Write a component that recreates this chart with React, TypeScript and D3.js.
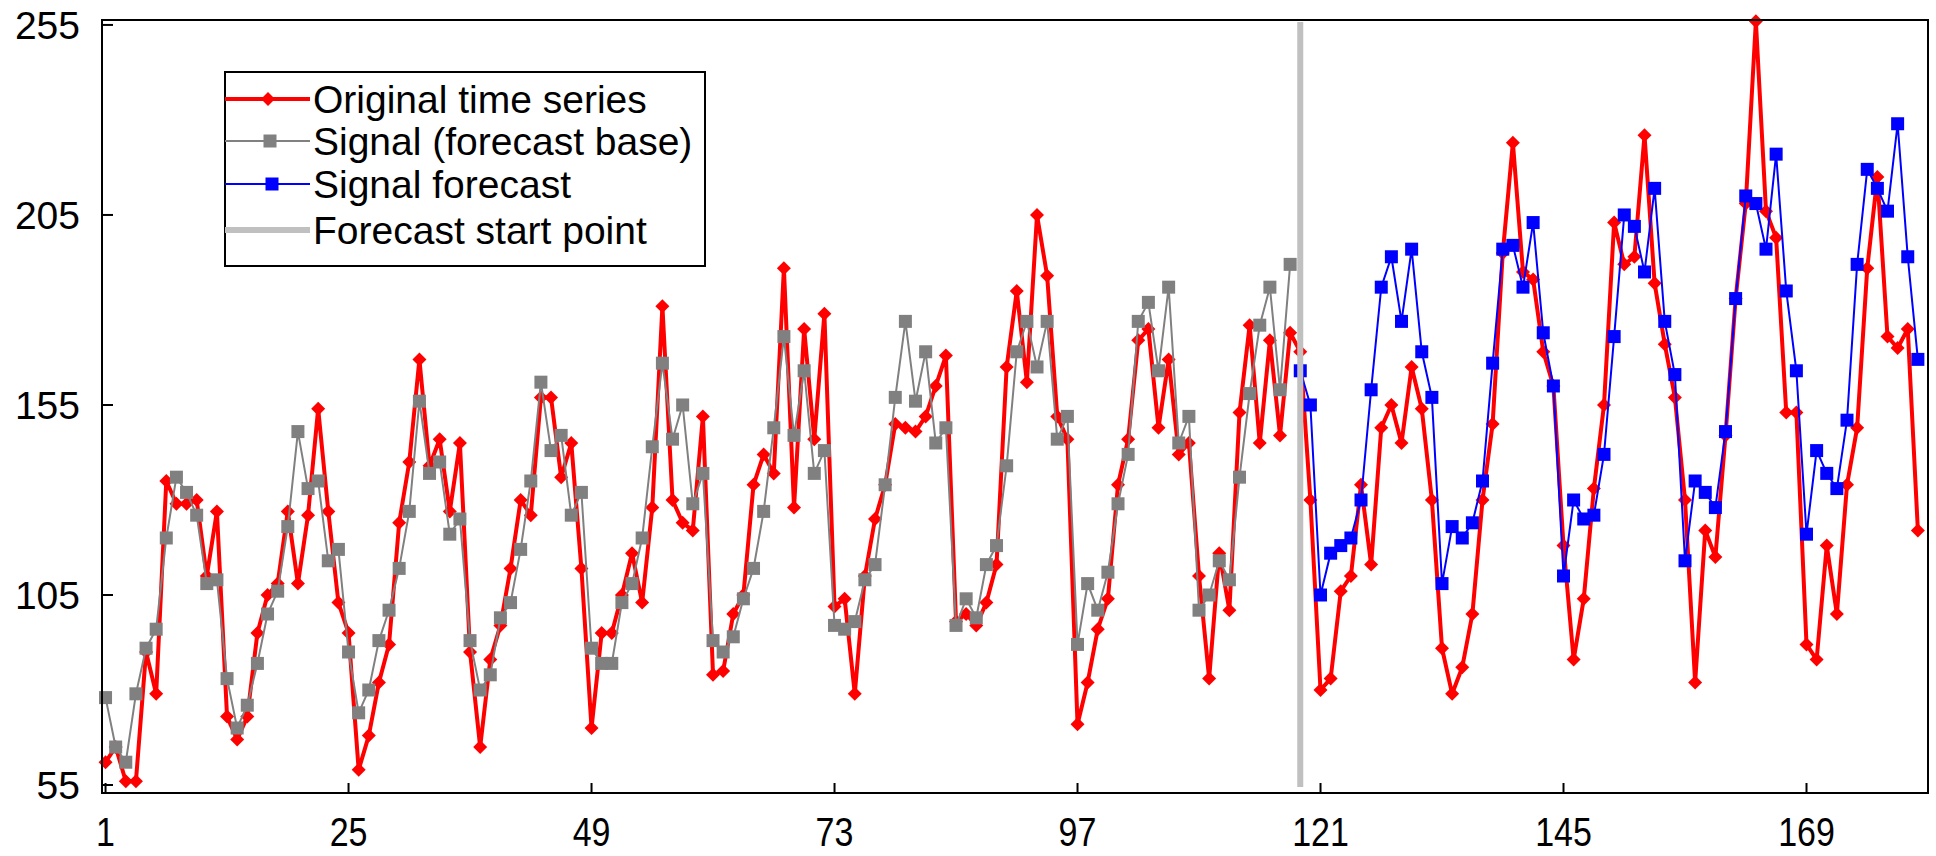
import * as d3 from 'd3';

// monthly values
const original = [
  61, 65, 56, 56, 90, 79, 135, 129, 129, 130,
  110, 127, 73, 67, 73, 95, 105, 108, 127, 108,
  126, 154, 127, 103, 95, 59, 68, 82, 92, 124,
  140, 167, 139, 146, 127, 145, 90, 65, 88, 97,
  112, 130, 126, 157, 157, 136, 145, 112, 70, 95,
  95, 105, 116, 103, 128, 181, 130, 124, 122, 152,
  84, 85, 100, 105, 134, 142, 137, 191, 128, 175,
  146, 179, 102, 104, 79, 110, 125, 134, 150, 149,
  148, 152, 160, 168, 98, 100, 97, 103, 113, 165,
  185, 161, 205, 189, 152, 146, 71, 82, 96, 104,
  134, 146, 172, 175, 149, 167, 142, 145, 110, 83,
  116, 101, 153, 176, 145, 172, 147, 174, 169, 130,
  80, 83, 106, 110, 134, 113, 149, 155, 145, 165,
  154, 130, 91, 79, 86, 100, 130, 150, 195, 224,
  190, 188, 169, 160, 118, 88, 104, 133, 155, 203,
  192, 194, 226, 187, 171, 157, 130, 82, 122, 115,
  147, 183, 208, 256, 206, 199, 153, 153, 92, 88,
  118, 100, 134, 149, 191, 215, 173, 170, 175, 122,
];

const signal = [
  78, 65, 61, 79, 91, 96, 120, 136, 132, 126,
  108, 109, 83, 70, 76, 87, 100, 106, 123, 148,
  133, 135, 114, 117, 90, 74, 80, 93, 101, 112,
  127, 156, 137, 140, 121, 125, 93, 80, 84, 99,
  103, 117, 135, 161, 143, 147, 126, 132, 91, 87,
  87, 103, 108, 120, 144, 166, 146, 155, 129, 137,
  93, 90, 94, 104, 112, 127, 149, 173, 147, 164,
  137, 143, 97, 96, 98, 109, 113, 134, 157, 177,
  156, 169, 145, 149, 97, 104, 99, 113, 118, 139,
  169, 177, 165, 177, 146, 152, 92, 108, 101, 111,
  129, 142, 177, 182, 164, 186, 145, 152, 101, 105,
  114, 109, 136, 158, 176, 186, 159, 192,
];

const forecastStart = 119;
const forecast = [
  164, 155, 105, 116, 118, 120, 130, 159, 186, 194,
  177, 196, 169, 157, 108, 123, 120, 124, 135, 166,
  196, 197, 186, 203, 174, 160, 110, 130, 125, 126,
  142, 173, 205, 202, 190, 212, 177, 163, 114, 135,
  132, 128, 148, 183, 210, 208, 196, 221, 185, 164,
  121, 143, 137, 133, 151, 192, 217, 212, 206, 229,
  194, 167,
];

const xTicks = [1, 25, 49, 73, 97, 121, 145, 169];
const yTicks = [55, 105, 155, 205, 255];
const legendLabels = [
  'Original time series',
  'Signal (forecast base)',
  'Signal forecast',
  'Forecast start point',
];

const FONT = '"Liberation Sans", Arial, sans-serif';
const RED = '#ff0000';
const GRAY = '#808080';
const BLUE = '#0000ff';
const LIGHT = '#c0c0c0';

const Diamond = ({ cx, cy, r = 7 }) => (
  <path d={`M${cx},${cy - r}L${cx + r},${cy}L${cx},${cy + r}L${cx - r},${cy}Z`} fill={RED} />
);

const Square = ({ cx, cy, fill, s = 13 }) => (
  <rect x={cx - s / 2} y={cy - s / 2} width={s} height={s} fill={fill} />
);

export default function App() {
  const left = 102;
  const right = 1928;
  const top = 20;
  const bottom = 793;

  const x = d3.scaleLinear().domain([0.65, 181]).range([left, right]);
  const y = d3.scaleLinear().domain([52.9, 256.3]).range([bottom, top]);

  const line = d3
    .line<[number, number]>()
    .x((d) => x(d[0]))
    .y((d) => y(d[1]));

  const origPts: [number, number][] = original.map((v, i) => [i + 1, v]);
  const sigPts: [number, number][] = signal.map((v, i) => [i + 1, v]);
  const fcPts: [number, number][] = forecast.map((v, i) => [forecastStart + i, v]);

  // legend geometry
  const lgX = 225;
  const lgY = 72;
  const lgW = 480;
  const lgH = 194;
  const rowY = [99, 141, 184, 230];

  return (
    <div style={{ position: 'absolute', left: 0, top: 0 }}>
      <svg width={1936} height={856} style={{ display: 'block', background: '#fff' }}>
        {/* original series */}
        <path d={line(origPts)} fill="none" stroke={RED} strokeWidth={4} strokeLinejoin="round" />
        {origPts.map((d, i) => (
          <Diamond key={'o' + i} cx={x(d[0])} cy={y(d[1])} />
        ))}

        {/* signal */}
        <path d={line(sigPts)} fill="none" stroke={GRAY} strokeWidth={2} />
        {sigPts.map((d, i) => (
          <Square key={'s' + i} cx={x(d[0])} cy={y(d[1])} fill={GRAY} />
        ))}

        {/* forecast */}
        <path d={line(fcPts)} fill="none" stroke={BLUE} strokeWidth={2} />
        {fcPts.map((d, i) => (
          <Square key={'f' + i} cx={x(d[0])} cy={y(d[1])} fill={BLUE} />
        ))}

        {/* forecast start marker */}
        <line x1={x(forecastStart)} x2={x(forecastStart)} y1={top + 2} y2={787} stroke={LIGHT} strokeWidth={6} />

        {/* frame */}
        <rect x={left} y={top} width={right - left} height={bottom - top} fill="none" stroke="#000" strokeWidth={2} />

        {/* y axis */}
        {yTicks.map((t) => (
          <g key={'y' + t}>
            <line x1={left} x2={left + 11} y1={y(t)} y2={y(t)} stroke="#000" strokeWidth={2} />
            <text x={80} y={y(t)} dy="0.36em" textAnchor="end" fontFamily={FONT} fontSize={39} fill="#000">
              {t}
            </text>
          </g>
        ))}

        {/* x axis */}
        {xTicks.map((t) => (
          <g key={'x' + t}>
            <line x1={x(t)} x2={x(t)} y1={bottom} y2={bottom - 10} stroke="#000" strokeWidth={2} />
            <text
              transform={`translate(${x(t)},846) scale(0.85,1)`}
              textAnchor="middle"
              fontFamily={FONT}
              fontSize={40}
              fill="#000"
            >
              {t}
            </text>
          </g>
        ))}

        {/* legend */}
        <rect x={lgX} y={lgY} width={lgW} height={lgH} fill="#fff" stroke="#000" strokeWidth={2} />
        <line x1={lgX} x2={310} y1={rowY[0]} y2={rowY[0]} stroke={RED} strokeWidth={4} />
        <Diamond cx={268} cy={rowY[0]} />
        <line x1={lgX} x2={310} y1={rowY[1]} y2={rowY[1]} stroke={GRAY} strokeWidth={2} />
        <Square cx={270} cy={rowY[1]} fill={GRAY} />
        <line x1={lgX} x2={310} y1={rowY[2]} y2={rowY[2]} stroke={BLUE} strokeWidth={2} />
        <Square cx={272} cy={rowY[2]} fill={BLUE} />
        <line x1={lgX} x2={310} y1={rowY[3]} y2={rowY[3]} stroke={LIGHT} strokeWidth={6} />
        {legendLabels.map((l, i) => (
          <text key={l} x={313} y={rowY[i]} dy="0.36em" fontFamily={FONT} fontSize={39} fill="#000">
            {l}
          </text>
        ))}
      </svg>
    </div>
  );
}
